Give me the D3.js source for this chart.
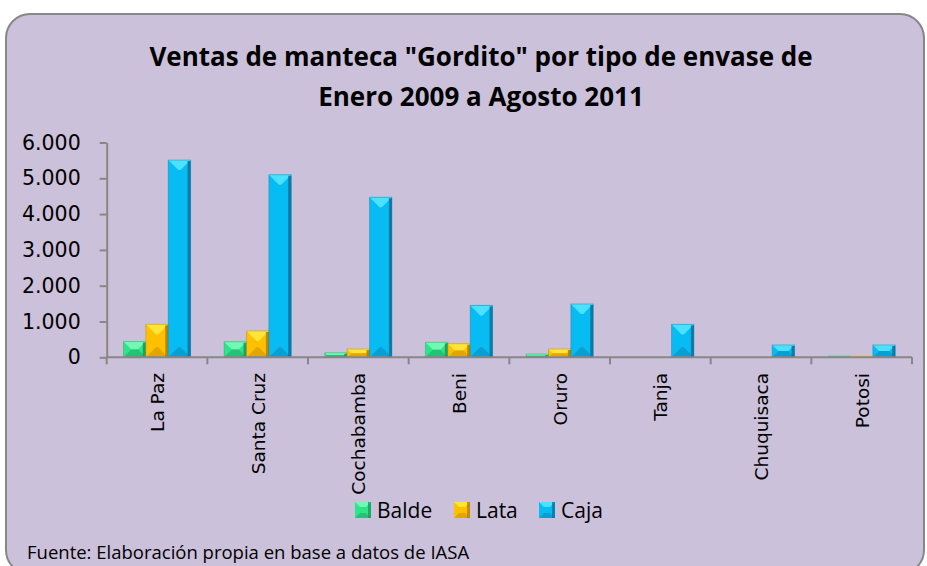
<!DOCTYPE html>
<html>
<head>
<meta charset="utf-8">
<script src="https://cdn.jsdelivr.net/npm/d3@7"></script>
<style>
  body { margin: 0; background: #fff; }
  .ejes text { font-family: 'DejaVu Sans', sans-serif; font-size: 18.5px; fill: #000; }
</style>
</head>
<body>
<div id="graf"></div>
<script>
// datos
const categorias = ['La Paz', 'Santa Cruz', 'Cochabamba', 'Beni', 'Oruro', 'Tanja', 'Chuquisaca', 'Potosi']
const series = ['Balde', 'Lata', 'Caja']
const balde = [440, 435, 125, 420, 90, 0, 0, 45]
const lata = [920, 735, 230, 380, 230, 8, 0, 45]
const caja = [5510, 5100, 4470, 1450, 1490, 920, 345, 345]
const ticksY = [0, 1000, 2000, 3000, 4000, 5000, 6000]

const titulo1 = 'Ventas de manteca "Gordito" por tipo de envase de'
const titulo2 = 'Enero 2009 a Agosto 2011'
const fuente = 'Fuente: Elaboración propia en base a datos de IASA'

const colores = {
  Balde: { base: '#2fe38b', top: '#72f7b5', bottom: '#24c274', right: '#1a8f57' },
  Lata: { base: '#ffc000', top: '#ffe53a', bottom: '#e3a600', right: '#a97800' },
  Caja: { base: '#07bcf3', top: '#4be1ff', bottom: '#0a9fd3', right: '#0b6a92' }
}

const datos = categorias.map((c, i) => ({ categoria: c, Balde: balde[i], Lata: lata[i], Caja: caja[i] }))

const anchoTotal = 927
const altoTotal = 566

const svg = d3.select('#graf')
  .append('svg')
  .attr('width', anchoTotal)
  .attr('height', altoTotal)

// marco del grafico
svg.append('rect')
  .attr('x', 6)
  .attr('y', 14)
  .attr('width', 918)
  .attr('height', 560)
  .attr('rx', 24)
  .attr('fill', '#ccc1da')
  .attr('stroke', '#878787')
  .attr('stroke-width', 2)

const margin = { top: 142.5, bottom: 357.3, left: 106.7, right: 912 }

const y = d3.scaleLinear()
  .domain([0, 6000])
  .range([margin.bottom, margin.top])

const x0 = d3.scaleBand()
  .domain(categorias)
  .range([margin.left, margin.right])
  .padding(0)

const x1 = d3.scaleBand()
  .domain(series)
  .range([0, x0.bandwidth()])
  .paddingInner(0)
  .paddingOuter(0.75)

const formato = d3.formatLocale({ decimal: ',', thousands: '.', grouping: [3], currency: ['', ''] }).format(',d')

// titulo
svg.append('text')
  .attr('x', 481)
  .attr('y', 66)
  .attr('text-anchor', 'middle')
  .style('font-family', "'Open Sans', sans-serif")
  .style('font-weight', 'bold')
  .style('font-size', '26px')
  .text(titulo1)

svg.append('text')
  .attr('x', 481)
  .attr('y', 106)
  .attr('text-anchor', 'middle')
  .style('font-family', "'Open Sans', sans-serif")
  .style('font-weight', 'bold')
  .style('font-size', '26px')
  .text(titulo2)

// eje Y
const yAxisGroup = svg.append('g')
  .attr('class', 'ejes')
  .attr('transform', `translate(${margin.left}, 0)`)
  .call(d3.axisLeft(y)
    .tickValues(ticksY)
    .tickFormat(formato)
    .tickSize(7)
    .tickSizeOuter(0)
    .tickPadding(19))

yAxisGroup.selectAll('text')
  .style('font-size', '20.5px')

yAxisGroup.selectAll('path, line')
  .attr('stroke', '#878787')
  .attr('stroke-width', 2)

// barras
const grupos = svg.append('g')
  .selectAll('g')
  .data(datos)
  .enter()
  .append('g')
  .attr('transform', d => `translate(${x0(d.categoria)}, 0)`)

const barras = grupos.selectAll('g')
  .data(d => series.map(s => ({ serie: s, valor: d[s] })))
  .enter()
  .append('g')
  .filter(d => d.valor > 0)

barras.each(function (d) {
  const g = d3.select(this)
  const bx = x1(d.serie)
  const w = x1.bandwidth()
  const by = y(d.valor)
  const h = y(0) - by
  const c = colores[d.serie]
  g.append('rect')
    .attr('x', bx)
    .attr('y', by)
    .attr('width', w)
    .attr('height', h)
    .attr('fill', c.base)
  if (h < 3) return
  const p = Math.min(w * 0.45, h / 2, 11)
  g.append('polygon')
    .attr('points', [[bx, by], [bx + w, by], [bx + w - p, by + p], [bx + p, by + p]].join(' '))
    .attr('fill', c.top)
  g.append('polygon')
    .attr('points', [[bx, by + h], [bx + w, by + h], [bx + w - p, by + h - p], [bx + p, by + h - p]].join(' '))
    .attr('fill', c.bottom)
  g.append('rect')
    .attr('x', bx + w - 3)
    .attr('y', by + 1)
    .attr('width', 3)
    .attr('height', h - 1)
    .attr('fill', c.right)
    .attr('opacity', 0.8)
  g.append('rect')
    .attr('x', bx)
    .attr('y', by)
    .attr('width', w)
    .attr('height', h)
    .attr('fill', 'none')
    .attr('stroke', c.right)
    .attr('stroke-opacity', 0.35)
    .attr('stroke-width', 1)
})

// eje X
const xAxisGroup = svg.append('g')
  .attr('class', 'ejes')

xAxisGroup.append('line')
  .attr('x1', margin.left)
  .attr('x2', margin.right)
  .attr('y1', y(0))
  .attr('y2', y(0))
  .attr('stroke', '#878787')
  .attr('stroke-width', 2)

xAxisGroup.selectAll('.marca')
  .data(categorias.map(c => x0(c)).concat([margin.right]))
  .enter()
  .append('line')
  .attr('class', 'marca')
  .attr('x1', d => d)
  .attr('x2', d => d)
  .attr('y1', y(0))
  .attr('y2', y(0) + 7)
  .attr('stroke', '#878787')
  .attr('stroke-width', 2)

xAxisGroup.selectAll('text')
  .data(categorias)
  .enter()
  .append('text')
  .attr('text-anchor', 'end')
  .attr('transform', d => `translate(${x0(d) + x0.bandwidth() / 2 + 7}, 373) rotate(-90)`)
  .text(d => d)

// leyenda
const leyenda = svg.append('g')
  .selectAll('g')
  .data(series)
  .enter()
  .append('g')
  .attr('transform', (d, i) => `translate(${[355, 454, 539][i]}, 502)`)

leyenda.append('rect')
  .attr('width', 16)
  .attr('height', 16)
  .attr('fill', d => colores[d].base)
leyenda.append('polygon')
  .attr('points', '0,0 16,0 11,5 5,5')
  .attr('fill', d => colores[d].top)
leyenda.append('polygon')
  .attr('points', '0,16 16,16 11,11 5,11')
  .attr('fill', d => colores[d].bottom)
leyenda.append('rect')
  .attr('x', 13)
  .attr('width', 3)
  .attr('height', 16)
  .attr('fill', d => colores[d].right)
  .attr('opacity', 0.7)

leyenda.append('text')
  .attr('x', 22)
  .attr('y', 16)
  .style('font-family', "'Open Sans', sans-serif")
  .style('font-size', '21px')
  .text(d => d)

// fuente
svg.append('text')
  .attr('x', 27)
  .attr('y', 559)
  .style('font-family', "'Open Sans', sans-serif")
  .style('font-size', '18.5px')
  .text(fuente)
</script>
</body>
</html>
